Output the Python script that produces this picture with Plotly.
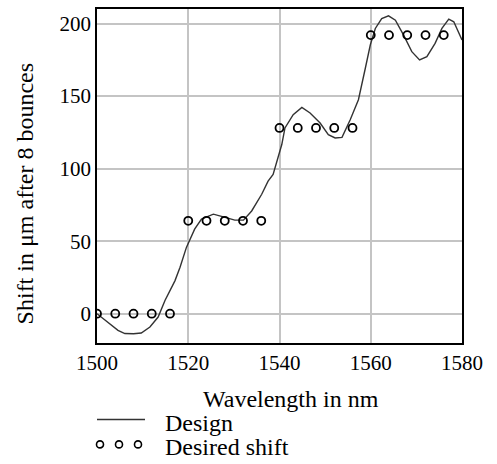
import plotly.graph_objects as go

# Design curve
design_wavelength = [1500, 1502.4, 1504.6, 1506.1, 1508, 1509.7, 1511.6, 1513.4, 1514.9, 1517.1,
                     1518.2, 1519.6, 1521.4, 1522.9, 1525.5, 1527.7, 1530.2, 1532.1, 1533.9, 1536.1,
                     1537.5, 1538.6, 1540.5, 1541.2, 1543.0, 1544.9, 1546.7, 1548.9, 1550.7, 1552.2,
                     1553.7, 1555.5, 1557.3, 1558.8, 1559.9, 1561.0, 1562.4, 1563.9, 1565.4, 1567.2,
                     1569.0, 1570.7, 1572.3, 1574.1, 1575.6, 1577.1, 1578.2, 1580]
design_shift = [0, -5.7, -11.5, -13.7, -13.8, -13.3, -9.2, -2.3, 9.1, 22.8,
                32, 45.7, 58.3, 65.2, 68.6, 66.7, 64.5, 64.5, 70.8, 82.3,
                91.4, 96, 116.6, 128, 137.2, 142.2, 138.3, 131.4, 123.4, 121.1,
                121.5, 133.7, 147.5, 169, 185.2, 196.6, 203.4, 205.3, 202.3, 192,
                180.6, 174.9, 177.2, 186.3, 196.6, 203, 201.2, 188.6]

# Desired shift points
desired_wavelength = [1500, 1504, 1508, 1512, 1516,
                      1520, 1524, 1528, 1532, 1536,
                      1540, 1544, 1548, 1552, 1556,
                      1560, 1564, 1568, 1572, 1576]
desired_shift = [0, 0, 0, 0, 0,
                 64, 64, 64, 64, 64,
                 128, 128, 128, 128, 128,
                 192, 192, 192, 192, 192]

x_ticks = [1500, 1520, 1540, 1560, 1580]
y_ticks = [0, 50, 100, 150, 200]

FONT = "Liberation Serif"
TICK_FS = 21
TITLE_FS = 24

fig = go.Figure()
fig.add_trace(go.Scatter(x=design_wavelength, y=design_shift, mode="lines",
                         line=dict(color="#333333", width=1.4), name="Design",
                         showlegend=False))
fig.add_trace(go.Scatter(x=desired_wavelength, y=desired_shift, mode="markers",
                         marker=dict(symbol="circle-open", size=8, color="black",
                                     line=dict(width=1.8, color="black")),
                         name="Desired shift", showlegend=False))

L, R, T, B = 97, 35, 7, 121
W, H = 497, 464
pw = W - L - R
ph = H - T - B

def px(x):
    return (x - L) / pw

def py(y):
    return (H - B - y) / ph

axis_common = dict(showgrid=True, gridcolor="#c4c4c4", gridwidth=1.5,
                   showline=True, linecolor="black", linewidth=1.6, mirror=True,
                   ticks="", zeroline=False,
                   tickfont=dict(family=FONT, size=TICK_FS, color="black"))

fig.update_xaxes(range=[1500, 1580], tickvals=x_ticks, **axis_common)
fig.update_yaxes(range=[-20.2, 210], tickvals=y_ticks, **axis_common)

tfont = dict(family=FONT, size=TITLE_FS, color="black")
annotations = [
    dict(text="Wavelength in nm", xref="paper", yref="paper", x=px(291), y=py(399.5),
         showarrow=False, xanchor="center", yanchor="middle", font=tfont, borderpad=0),
    dict(text="Shift in μm after 8 bounces", xref="paper", yref="paper", x=px(25), y=py(193.5),
         showarrow=False, xanchor="center", yanchor="middle", textangle=-90, font=tfont,
         borderpad=0),
    dict(text="Design", xref="paper", yref="paper", x=px(164), y=py(423),
         showarrow=False, xanchor="left", yanchor="middle", font=tfont, borderpad=0),
    dict(text="Desired shift", xref="paper", yref="paper", x=px(164), y=py(447.5),
         showarrow=False, xanchor="left", yanchor="middle", font=tfont, borderpad=0),
]

shapes = [
    dict(type="line", xref="paper", yref="paper", x0=px(97), x1=px(145), y0=py(420), y1=py(420),
         line=dict(color="#333333", width=1.4)),
]
for cx in [100, 119, 138]:
    shapes.append(dict(type="circle", xref="paper", yref="paper",
                       xsizemode="pixel", ysizemode="pixel",
                       xanchor=px(cx), yanchor=py(445),
                       x0=-3.5, x1=3.5, y0=-3.5, y1=3.5,
                       line=dict(color="black", width=1.6)))

fig.update_layout(width=W, height=H, margin=dict(l=L, r=R, t=T, b=B),
                  paper_bgcolor="white", plot_bgcolor="white",
                  showlegend=False, annotations=annotations, shapes=shapes,
                  font=dict(family=FONT, size=TICK_FS, color="black"))

fig.write_html("out.html", config={"displayModeBar": False},
               post_script="document.body.style.margin='0px';")
